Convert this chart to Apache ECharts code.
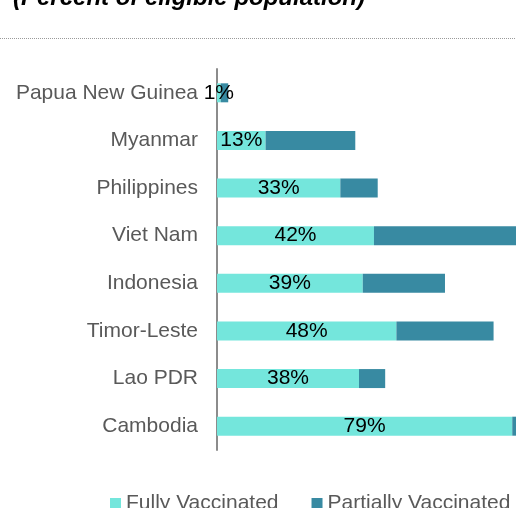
<!DOCTYPE html>
<html>
<head>
<meta charset="utf-8">
<script src="https://cdn.jsdelivr.net/npm/echarts@6/dist/echarts.min.js"></script>
<style>
  html, body { margin: 0; padding: 0; background: #fff; }
  #chart { width: 516px; height: 508px; }
</style>
</head>
<body>
<div id="chart"></div>
<script>
// categories top to bottom
const countries = ['Papua New Guinea', 'Myanmar', 'Philippines', 'Viet Nam', 'Indonesia', 'Timor-Leste', 'Lao PDR', 'Cambodia']
const fullyVaccinated = [1, 13, 33, 42, 39, 48, 38, 79]
const partiallyVaccinated = [2, 24, 10, 40, 22, 26, 7, 1]

const chart = echarts.init(document.getElementById('chart'))
const font = '"Liberation Sans", Arial, sans-serif'

chart.setOption({
  animation: false,
  title: {
    text: '(Percent of eligible population)',
    left: 8,
    top: -19,
    textStyle: { fontFamily: font, fontSize: 24, fontStyle: 'italic', fontWeight: 'bold', color: '#000' }
  },
  graphic: [
    {
      type: 'line',
      shape: { x1: 0, y1: 38.5, x2: 516, y2: 38.5 },
      style: { stroke: '#9a9a9a', lineWidth: 1, lineDash: [1, 1] }
    }
  ],
  legend: {
    left: 110,
    top: 493,
    width: 420,
    padding: 0,
    itemWidth: 11,
    itemHeight: 11,
    itemGap: 33,
    icon: 'rect',
    textStyle: { fontFamily: font, fontSize: 21, color: '#595959' },
    data: ['Fully Vaccinated', 'Partially Vaccinated']
  },
  // plot is cut at the right edge, as in the source picture
  grid: { left: 217, right: 0, top: 69, bottom: 58, containLabel: false },
  xAxis: {
    type: 'value',
    min: 0,
    max: 80,
    show: false
  },
  yAxis: {
    type: 'category',
    inverse: true,
    data: countries,
    axisLine: { show: true, lineStyle: { color: '#8c8c8c', width: 2 } },
    axisTick: { show: false },
    axisLabel: { fontFamily: font, fontSize: 21, color: '#595959', margin: 19 }
  },
  series: [
    {
      name: 'Fully Vaccinated',
      type: 'bar',
      stack: 'total',
      barWidth: 19,
      data: fullyVaccinated,
      itemStyle: { color: '#74e6dc' },
      label: {
        show: true,
        position: 'inside',
        formatter: '{c}%',
        fontFamily: font,
        fontSize: 21,
        color: '#000'
      }
    },
    {
      name: 'Partially Vaccinated',
      type: 'bar',
      stack: 'total',
      barWidth: 19,
      clip: true,
      data: partiallyVaccinated,
      itemStyle: { color: '#388aa2' }
    }
  ]
})
</script>
</body>
</html>
